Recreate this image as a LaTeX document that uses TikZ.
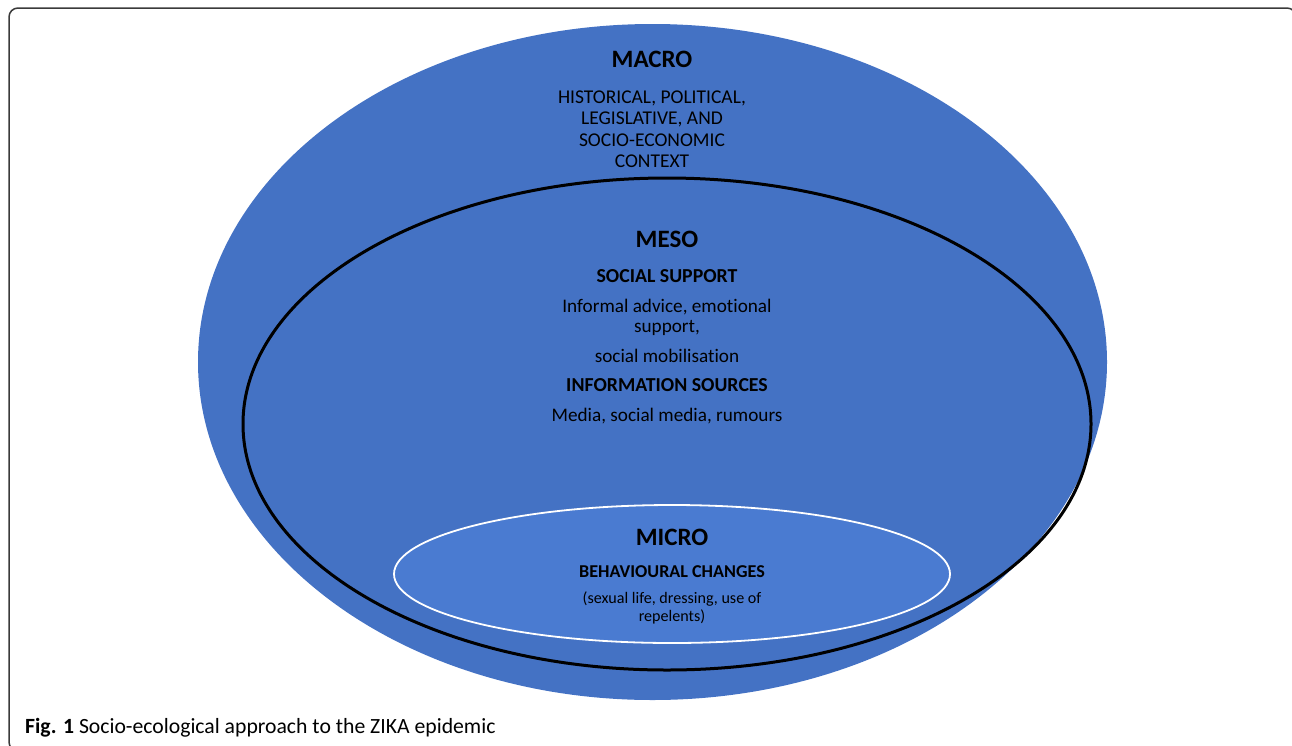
\documentclass[tikz,border=0pt]{standalone}
\usepackage{fontspec}
\setmainfont{Carlito}[Ligatures=NoCommon]
\definecolor{macrocol}{HTML}{4472C4}
\definecolor{microcol}{HTML}{4A7BD1}
\definecolor{framecol}{HTML}{3A3A3A}
\tikzset{
  headtext/.style={anchor=base,inner sep=0pt,font=\fontsize{25}{28}\selectfont\bfseries},
  subhead/.style={anchor=base,inner sep=0pt,font=\fontsize{19.8}{22}\selectfont\bfseries},
  bodytext/.style={anchor=base,inner sep=0pt,font=\fontsize{19.2}{22}\selectfont},
}
\begin{document}
\begin{tikzpicture}[x=1pt,y=-1pt,line join=bevel]
\clip (0,0) rectangle (1292,745);
  % Frame round the figure
  \draw [framecol,line width=1.5pt,rounded corners=9pt] (9,8) rectangle (1296,751);
%%
  % Node: macro
\begin{scope}
  \fill [macrocol] (652.5,362) ellipse (454.5 and 338);
  \node [headtext] (macro) at (652,67) {MACRO};
  \node [bodytext,font=\fontsize{19.5}{22}\selectfont] (macro-1) at (652,103) {HISTORICAL, POLITICAL,};
  \node [bodytext,font=\fontsize{19.5}{22}\selectfont] (macro-2) at (652,124.5) {LEGISLATIVE, AND};
  \node [bodytext,font=\fontsize{19.5}{22}\selectfont] (macro-3) at (652,146) {SOCIO-ECONOMIC};
  \node [bodytext,font=\fontsize{19.5}{22}\selectfont] (macro-4) at (652,167.5) {CONTEXT};
\end{scope}
  % Node: meso
\begin{scope}
  \draw [black,line width=3pt] (667,424) ellipse (424 and 246);
  \node [headtext] (meso) at (667,247) {MESO};
  \node [subhead] (meso-support) at (667,282.5) {SOCIAL SUPPORT};
  \node [bodytext] (meso-1) at (667,312.5) {Informal advice, emotional};
  \node [bodytext] (meso-2) at (667,332.5) {support,};
  \node [bodytext] (meso-3) at (667,362.5) {social mobilisation};
  \node [subhead] (meso-sources) at (667,391.5) {INFORMATION SOURCES};
  \node [bodytext] (meso-4) at (667,421.5) {Media, social media, rumours};
\end{scope}
  % Node: micro
\begin{scope}
  \draw [white,fill=microcol,line width=1.8pt] (672,574) ellipse (278 and 69);
  \node [headtext] (micro) at (672,545) {MICRO};
  \node [subhead,font=\fontsize{18.1}{20}\selectfont\bfseries] (micro-changes) at (672,577.5) {BEHAVIOURAL CHANGES};
  \node [bodytext,font=\fontsize{16.1}{18}\selectfont] (micro-1) at (672,603.5) {(sexual life, dressing, use of};
  \node [bodytext,font=\fontsize{16.1}{18}\selectfont] (micro-2) at (672,621.5) {repelents)};
\end{scope}
%
  % Caption
  \node [anchor=base west,inner sep=0pt,font=\fontsize{21.7}{24}\selectfont] (caption) at (25,733)
    {\textbf{Fig. 1} Socio-ecological approach to the ZIKA epidemic};
\end{tikzpicture}
\end{document}
